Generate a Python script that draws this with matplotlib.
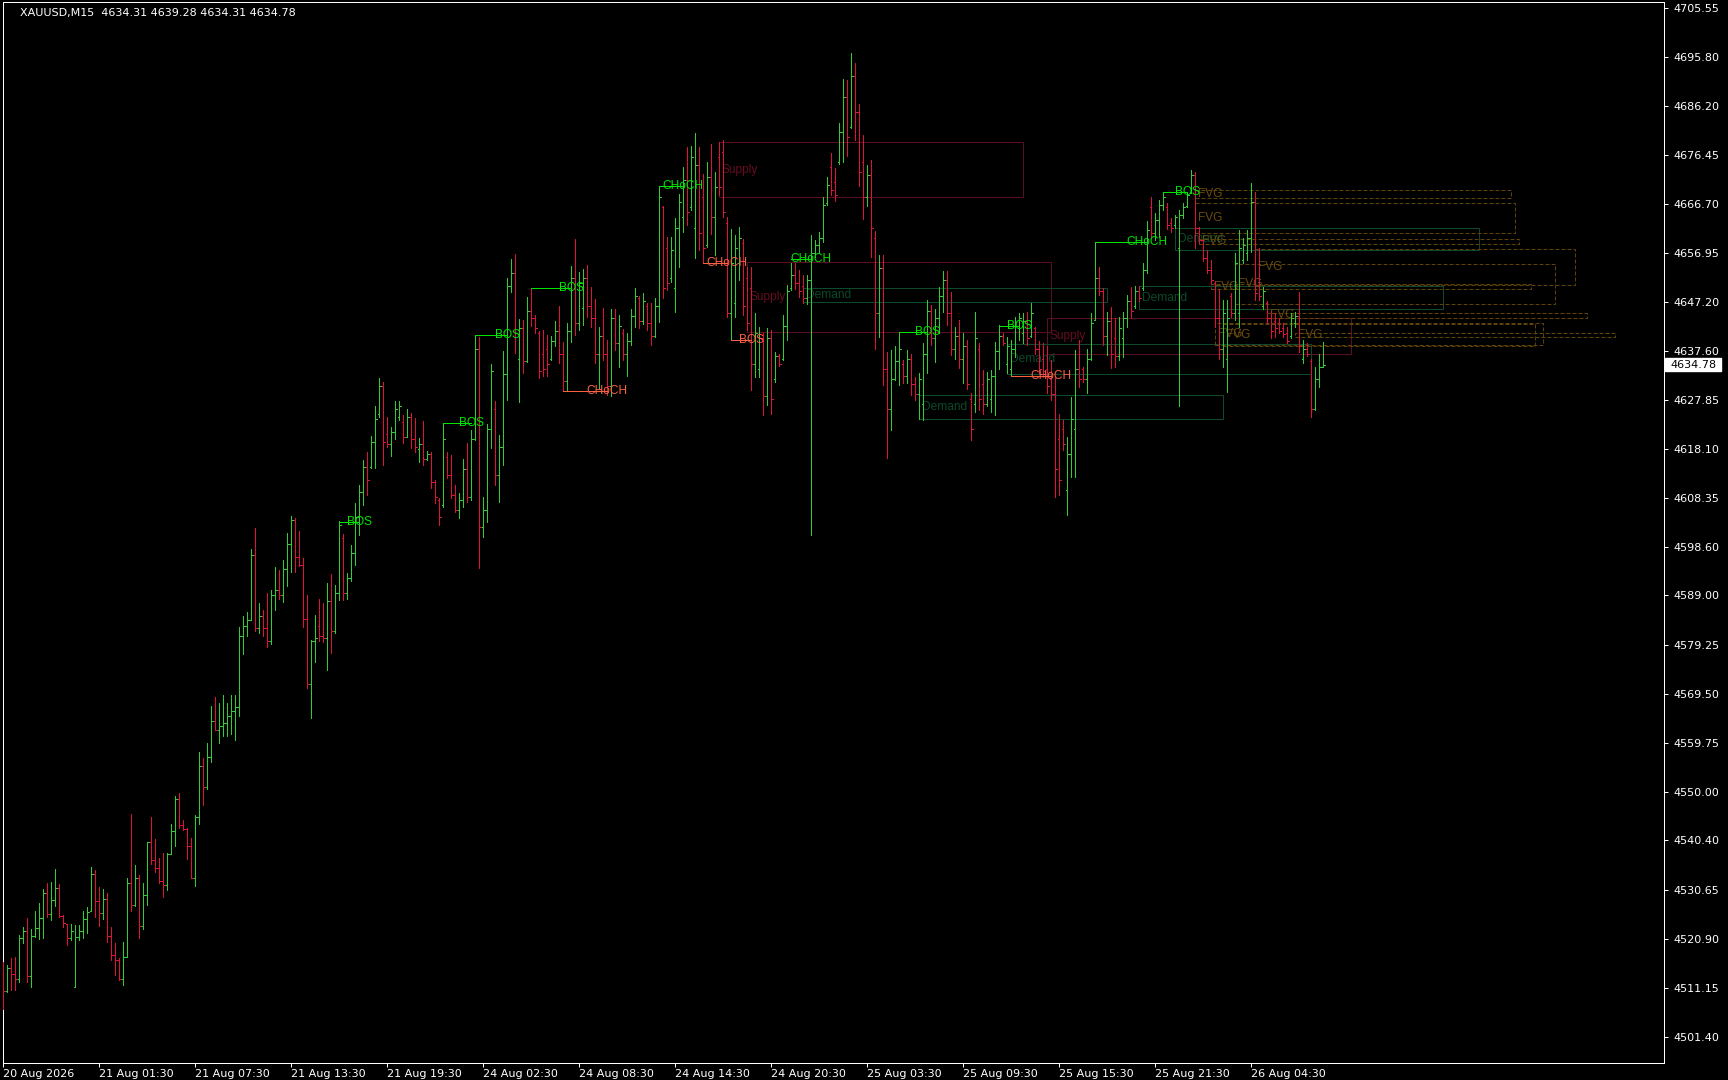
import matplotlib.pyplot as plt
import matplotlib.transforms as mtransforms
from matplotlib.collections import LineCollection
from matplotlib.patches import Rectangle

# XAUUSD M15 bars (open, high, low, close), one entry per bar
opens = [
    4514.5, 4510.5, 4515.0, 4513.8, 4512.9, 4521.0, 4522.4, 4513.5, 4521.5, 4523.0,
    4525.0, 4530.0, 4525.9, 4528.5, 4531.0, 4525.5, 4523.8, 4521.0, 4511.4, 4521.2,
    4522.5, 4524.8, 4526.3, 4533.8, 4528.3, 4526.0, 4528.8, 4521.4, 4517.6, 4516.6,
    4513.0, 4517.3, 4532.0, 4527.6, 4533.0, 4523.5, 4529.6, 4540.0, 4536.5, 4535.0,
    4532.3, 4531.5, 4537.8, 4542.3, 4548.6, 4543.5, 4542.6, 4539.2, 4533.0, 4545.0,
    4555.2, 4551.0, 4557.0, 4564.0, 4562.4, 4563.2, 4563.6, 4565.0, 4566.0, 4566.8,
    4581.0, 4583.0, 4584.2, 4597.0, 4582.5, 4585.0, 4582.6, 4580.0, 4589.0, 4590.0,
    4589.0, 4594.3, 4599.2, 4604.0, 4596.6, 4595.0, 4584.4, 4571.5, 4580.0, 4583.0,
    4581.0, 4580.5, 4588.0, 4582.0, 4589.5, 4600.5, 4589.5, 4592.5, 4597.5, 4604.5,
    4609.5, 4614.5, 4614.5, 4619.5, 4625.0, 4630.5, 4621.0, 4619.0, 4621.5, 4624.5,
    4623.5, 4620.5, 4624.5, 4620.0, 4618.0, 4619.0, 4616.0, 4617.0, 4611.5, 4608.0,
    4607.0, 4616.5, 4613.0, 4609.0, 4606.0, 4608.0, 4614.0, 4608.5, 4620.0, 4638.0,
    4602.5, 4606.0, 4622.0, 4626.0, 4613.0, 4618.5, 4633.0, 4650.5, 4653.0, 4636.0,
    4642.0, 4635.5, 4645.5, 4644.0, 4641.0, 4637.0, 4638.0, 4636.0, 4639.5, 4641.5,
    4637.0, 4631.5, 4641.5, 4652.0, 4643.0, 4646.0, 4652.0, 4646.5, 4644.0, 4637.0,
    4640.5, 4637.0, 4630.5, 4644.0, 4639.0, 4641.0, 4637.0, 4639.5, 4644.5, 4648.0,
    4643.5, 4646.5, 4643.0, 4640.5, 4646.5, 4666.0, 4658.0, 4652.0, 4650.0, 4662.0,
    4664.0, 4671.5, 4666.0, 4662.0, 4674.5, 4668.0, 4658.5, 4672.0, 4664.0, 4676.0,
    4677.0, 4663.0, 4645.0, 4647.0, 4655.0, 4659.0, 4652.0, 4650.0, 4635.0, 4634.0,
    4640.0, 4628.5, 4640.0, 4632.0, 4636.5, 4636.0, 4642.5, 4650.0, 4652.5, 4651.0,
    4650.5, 4648.0, 4651.5, 4657.0, 4658.5, 4660.0, 4666.8, 4674.0, 4671.0, 4675.0,
    4681.0, 4688.0, 4682.0, 4692.0, 4685.0, 4675.0, 4668.0, 4672.5, 4660.0, 4645.0,
    4654.0, 4634.0, 4626.0, 4632.0, 4635.5, 4635.0, 4632.5, 4636.0, 4631.0, 4629.0,
    4627.0, 4637.0, 4645.5, 4640.0, 4644.0, 4648.5, 4651.5, 4645.0, 4638.0, 4640.5,
    4636.0, 4638.5, 4628.0, 4627.0, 4638.0, 4631.0, 4627.0, 4628.0, 4632.5, 4637.5,
    4640.5, 4635.0, 4634.0, 4638.0, 4642.0, 4641.0, 4643.5, 4640.5, 4642.0, 4638.0,
    4636.0, 4634.0, 4632.0, 4629.0, 4620.0, 4622.0, 4610.0, 4617.0, 4622.0, 4634.0,
    4634.0, 4632.0, 4636.0, 4643.7, 4652.0, 4649.5, 4640.5, 4643.5, 4640.0, 4636.5,
    4640.0, 4644.0, 4647.5, 4646.5, 4649.5, 4650.0, 4653.5, 4666.0, 4661.0, 4663.5,
    4666.5, 4666.0, 4663.0, 4662.5, 4658.0, 4664.5, 4666.2, 4668.8, 4672.5, 4662.0,
    4659.5, 4656.0, 4653.5, 4651.0, 4644.0, 4638.0, 4636.0, 4648.5, 4645.0, 4645.0,
    4655.5, 4657.0, 4660.0, 4667.0, 4652.0, 4646.5, 4647.0, 4644.0, 4643.5, 4643.0,
    4642.0, 4641.0, 4640.5, 4643.0, 4644.5, 4636.0, 4638.0, 4635.5, 4626.0, 4632.0,
    4634.31,
]
highs = [
    4516.3, 4515.7, 4517.0, 4517.2, 4521.6, 4523.3, 4525.1, 4522.9, 4526.3, 4527.9,
    4530.7, 4532.0, 4532.2, 4534.7, 4531.7, 4525.6, 4523.9, 4523.9, 4523.6, 4523.7,
    4526.3, 4527.2, 4535.1, 4534.6, 4531.1, 4530.7, 4529.9, 4523.3, 4520.1, 4517.1,
    4520.3, 4533.0, 4545.6, 4535.6, 4533.5, 4531.9, 4540.1, 4545.1, 4540.7, 4537.0,
    4538.0, 4538.0, 4543.6, 4549.3, 4549.9, 4544.4, 4542.8, 4540.8, 4545.4, 4558.0,
    4556.8, 4559.7, 4567.1, 4568.9, 4567.6, 4569.2, 4567.6, 4569.2, 4569.2, 4582.8,
    4584.9, 4585.8, 4598.3, 4602.3, 4587.6, 4586.1, 4589.4, 4590.1, 4594.6, 4594.0,
    4596.0, 4601.3, 4604.8, 4604.4, 4601.8, 4596.4, 4589.0, 4580.2, 4585.1, 4588.3,
    4587.6, 4591.5, 4593.2, 4591.1, 4603.8, 4601.2, 4593.4, 4599.0, 4607.3, 4610.9,
    4615.9, 4617.5, 4620.6, 4626.6, 4632.1, 4631.3, 4624.5, 4622.5, 4627.6, 4627.6,
    4624.8, 4626.0, 4625.3, 4624.3, 4620.2, 4623.6, 4617.7, 4617.5, 4611.9, 4608.4,
    4623.3, 4617.5, 4616.9, 4610.9, 4609.3, 4616.0, 4619.2, 4621.8, 4640.7, 4640.2,
    4608.6, 4623.0, 4635.0, 4627.5, 4620.8, 4637.5, 4651.9, 4655.8, 4656.7, 4643.8,
    4643.7, 4648.2, 4650.0, 4644.7, 4641.4, 4641.7, 4640.7, 4640.4, 4643.5, 4646.4,
    4639.2, 4643.1, 4654.3, 4659.7, 4653.1, 4653.8, 4654.6, 4650.3, 4647.8, 4642.3,
    4646.0, 4639.6, 4645.8, 4645.8, 4644.7, 4641.9, 4641.0, 4645.9, 4650.1, 4648.5,
    4649.0, 4647.1, 4647.0, 4648.0, 4670.3, 4666.3, 4660.2, 4660.2, 4663.8, 4668.6,
    4674.1, 4677.9, 4678.2, 4680.7, 4677.9, 4672.7, 4675.1, 4678.6, 4673.1, 4679.0,
    4679.4, 4664.1, 4661.8, 4660.5, 4662.2, 4659.8, 4654.2, 4654.1, 4645.0, 4642.3,
    4641.0, 4642.0, 4641.7, 4637.4, 4637.0, 4644.6, 4650.6, 4655.0, 4654.9, 4653.6,
    4652.6, 4652.6, 4660.5, 4659.5, 4661.2, 4668.1, 4672.1, 4676.7, 4673.9, 4682.7,
    4691.4, 4691.3, 4696.6, 4694.6, 4686.6, 4680.4, 4674.4, 4675.5, 4661.3, 4656.5,
    4656.5, 4637.4, 4637.7, 4638.4, 4641.1, 4635.7, 4637.7, 4637.0, 4632.4, 4633.1,
    4639.0, 4647.7, 4646.6, 4645.8, 4650.3, 4653.4, 4653.4, 4649.2, 4642.2, 4643.6,
    4641.0, 4639.7, 4629.1, 4645.3, 4639.0, 4633.7, 4633.4, 4633.7, 4639.3, 4642.6,
    4641.0, 4640.3, 4639.7, 4644.3, 4645.0, 4645.0, 4645.2, 4647.0, 4642.3, 4639.4,
    4639.0, 4638.4, 4635.7, 4632.4, 4625.1, 4623.8, 4620.5, 4628.4, 4637.7, 4639.7,
    4634.4, 4638.0, 4645.0, 4659.2, 4654.2, 4650.0, 4645.3, 4646.3, 4644.0, 4644.3,
    4645.3, 4648.6, 4650.3, 4650.4, 4650.5, 4654.9, 4663.2, 4668.1, 4664.8, 4667.5,
    4669.0, 4666.8, 4663.8, 4664.5, 4665.5, 4666.8, 4669.1, 4673.4, 4673.1, 4662.2,
    4659.5, 4657.5, 4655.6, 4651.3, 4649.9, 4647.6, 4647.6, 4649.0, 4656.9, 4661.5,
    4659.9, 4661.5, 4670.8, 4669.1, 4658.0, 4650.3, 4647.5, 4645.5, 4645.0, 4644.0,
    4643.0, 4642.3, 4645.0, 4645.3, 4649.3, 4639.7, 4639.0, 4636.0, 4634.4, 4637.0,
    4639.28,
]
lows = [
    4507.0, 4510.4, 4510.7, 4510.7, 4512.4, 4520.0, 4512.4, 4511.4, 4521.3, 4520.8,
    4521.0, 4525.3, 4524.6, 4527.4, 4525.3, 4523.3, 4519.6, 4520.6, 4511.4, 4520.6,
    4521.0, 4522.1, 4526.3, 4525.3, 4523.4, 4524.9, 4520.3, 4516.7, 4513.7, 4512.7,
    4511.7, 4517.2, 4526.3, 4527.4, 4521.0, 4522.8, 4527.6, 4535.8, 4534.2, 4531.9,
    4529.2, 4530.6, 4537.7, 4539.3, 4542.8, 4542.5, 4536.8, 4532.9, 4531.4, 4543.6,
    4547.4, 4550.7, 4556.0, 4562.3, 4559.8, 4561.2, 4561.2, 4561.6, 4560.4, 4565.1,
    4577.4, 4581.0, 4584.2, 4582.0, 4581.5, 4581.0, 4578.8, 4579.4, 4586.2, 4588.3,
    4587.8, 4590.9, 4593.7, 4593.7, 4594.8, 4582.8, 4570.6, 4564.7, 4575.9, 4580.0,
    4579.8, 4574.3, 4577.5, 4581.6, 4588.1, 4588.1, 4588.4, 4591.8, 4595.1, 4601.0,
    4607.0, 4609.0, 4614.2, 4614.2, 4624.5, 4614.9, 4618.5, 4616.7, 4620.0, 4623.8,
    4619.3, 4620.5, 4618.2, 4617.5, 4615.4, 4614.9, 4615.9, 4610.3, 4607.3, 4603.0,
    4606.6, 4612.3, 4608.3, 4605.6, 4604.3, 4606.6, 4607.6, 4608.0, 4619.9, 4594.4,
    4600.7, 4603.5, 4618.3, 4610.9, 4607.6, 4614.9, 4627.8, 4649.3, 4637.1, 4627.3,
    4633.1, 4635.3, 4642.5, 4641.0, 4632.1, 4632.6, 4632.6, 4635.7, 4638.4, 4635.1,
    4629.6, 4629.8, 4639.2, 4640.6, 4641.7, 4642.7, 4644.3, 4642.3, 4635.1, 4630.0,
    4635.7, 4628.8, 4628.6, 4637.7, 4634.4, 4635.7, 4632.6, 4638.7, 4642.3, 4642.1,
    4642.8, 4641.7, 4638.7, 4640.2, 4643.3, 4648.0, 4649.6, 4651.2, 4645.2, 4654.2,
    4661.2, 4662.5, 4665.5, 4655.9, 4657.5, 4655.0, 4658.2, 4660.8, 4656.5, 4668.5,
    4664.1, 4644.3, 4639.7, 4644.3, 4651.6, 4644.6, 4641.7, 4629.8, 4632.4, 4632.4,
    4624.8, 4626.8, 4625.0, 4631.4, 4634.5, 4635.8, 4639.7, 4649.6, 4649.9, 4648.3,
    4647.1, 4646.9, 4601.0, 4656.2, 4656.9, 4659.2, 4666.5, 4668.4, 4667.3, 4674.7,
    4675.1, 4676.2, 4681.7, 4679.4, 4670.3, 4663.7, 4666.3, 4656.2, 4638.0, 4640.3,
    4630.7, 4616.2, 4621.9, 4631.7, 4630.7, 4631.1, 4631.1, 4628.8, 4627.8, 4624.1,
    4623.9, 4633.1, 4638.7, 4635.4, 4641.0, 4645.3, 4642.7, 4636.7, 4636.0, 4634.1,
    4631.1, 4629.9, 4619.8, 4625.5, 4625.8, 4625.1, 4626.5, 4625.5, 4624.8, 4634.0,
    4638.7, 4633.1, 4632.6, 4636.4, 4639.7, 4639.0, 4638.7, 4640.3, 4637.0, 4633.1,
    4632.4, 4629.1, 4627.8, 4608.6, 4608.9, 4617.9, 4605.0, 4612.6, 4612.6, 4630.4,
    4631.4, 4629.1, 4635.7, 4643.7, 4648.6, 4638.7, 4636.7, 4634.1, 4634.4, 4635.7,
    4636.4, 4642.3, 4644.0, 4646.0, 4647.5, 4649.6, 4652.9, 4660.2, 4659.5, 4660.2,
    4665.5, 4661.8, 4661.2, 4662.0, 4626.5, 4663.8, 4666.1, 4668.8, 4658.0, 4658.9,
    4655.3, 4652.9, 4650.9, 4642.3, 4636.0, 4634.4, 4629.4, 4644.3, 4643.7, 4642.3,
    4654.9, 4655.6, 4657.2, 4647.6, 4647.6, 4645.9, 4643.0, 4640.0, 4640.3, 4641.0,
    4640.3, 4639.0, 4640.0, 4642.3, 4637.4, 4635.1, 4636.5, 4624.5, 4625.8, 4630.4,
    4634.31,
]
closes = [
    4510.5, 4515.0, 4513.8, 4512.9, 4521.0, 4522.4, 4513.5, 4521.5, 4523.0, 4525.0,
    4530.0, 4525.9, 4528.5, 4531.0, 4525.5, 4524.0, 4521.0, 4522.4, 4521.2, 4522.5,
    4524.8, 4526.2, 4533.8, 4528.3, 4526.0, 4528.8, 4521.4, 4517.6, 4516.6, 4513.0,
    4517.3, 4532.0, 4527.6, 4533.0, 4523.5, 4529.6, 4540.0, 4536.5, 4535.0, 4532.3,
    4531.5, 4537.8, 4542.3, 4548.6, 4543.5, 4542.6, 4539.2, 4533.0, 4545.0, 4555.2,
    4551.0, 4557.0, 4564.0, 4562.4, 4563.2, 4563.6, 4565.0, 4566.0, 4566.8, 4581.0,
    4583.0, 4584.2, 4597.0, 4582.5, 4585.0, 4582.6, 4580.0, 4589.0, 4590.0, 4589.0,
    4594.3, 4599.2, 4604.0, 4596.6, 4595.0, 4584.4, 4571.5, 4580.0, 4580.5, 4581.0,
    4580.5, 4588.0, 4582.0, 4589.5, 4603.0, 4589.5, 4592.5, 4597.5, 4604.5, 4609.5,
    4614.5, 4612.0, 4619.5, 4624.0, 4630.5, 4619.5, 4619.0, 4621.5, 4626.0, 4626.5,
    4620.5, 4624.5, 4620.0, 4618.5, 4619.0, 4616.0, 4617.0, 4611.5, 4608.5, 4604.5,
    4620.0, 4613.0, 4609.0, 4606.0, 4608.0, 4614.0, 4608.5, 4620.0, 4638.0, 4602.5,
    4606.0, 4622.0, 4633.5, 4613.0, 4618.5, 4633.0, 4650.5, 4653.0, 4641.0, 4642.0,
    4635.5, 4645.5, 4644.0, 4642.0, 4633.5, 4634.0, 4635.0, 4639.5, 4641.5, 4637.0,
    4631.5, 4641.5, 4652.0, 4643.0, 4651.0, 4652.0, 4646.5, 4644.0, 4637.0, 4640.5,
    4637.0, 4630.5, 4644.0, 4639.0, 4642.5, 4637.0, 4639.5, 4644.5, 4648.5, 4643.5,
    4647.5, 4643.0, 4640.5, 4646.5, 4668.0, 4650.0, 4651.0, 4657.5, 4662.0, 4667.0,
    4671.5, 4665.0, 4676.0, 4674.5, 4661.0, 4658.0, 4672.0, 4664.0, 4670.0, 4670.0,
    4665.0, 4645.0, 4655.0, 4658.0, 4660.0, 4646.5, 4643.0, 4635.0, 4641.0, 4640.0,
    4628.5, 4640.0, 4628.0, 4636.5, 4635.0, 4642.5, 4649.5, 4652.5, 4651.0, 4649.5,
    4648.0, 4651.5, 4657.0, 4658.5, 4660.0, 4666.5, 4670.5, 4669.5, 4668.5, 4681.0,
    4688.0, 4680.0, 4692.0, 4685.0, 4673.0, 4668.0, 4672.5, 4662.0, 4645.0, 4654.0,
    4634.0, 4626.0, 4632.0, 4635.5, 4638.0, 4632.5, 4636.0, 4631.0, 4629.0, 4632.0,
    4637.0, 4645.5, 4640.0, 4644.0, 4648.5, 4651.5, 4645.0, 4638.0, 4640.5, 4636.0,
    4638.5, 4631.0, 4622.0, 4640.0, 4628.0, 4627.0, 4632.0, 4632.5, 4637.5, 4640.5,
    4639.0, 4638.5, 4638.0, 4642.5, 4644.0, 4643.5, 4640.0, 4645.0, 4638.0, 4634.0,
    4633.5, 4630.5, 4629.0, 4614.0, 4612.0, 4619.0, 4617.0, 4624.0, 4634.0, 4632.0,
    4632.0, 4636.0, 4643.0, 4652.0, 4649.5, 4640.5, 4643.5, 4637.0, 4636.5, 4642.0,
    4644.0, 4647.5, 4645.5, 4649.5, 4648.0, 4653.5, 4661.5, 4661.0, 4663.5, 4666.5,
    4668.0, 4662.5, 4662.0, 4664.0, 4664.5, 4666.0, 4668.5, 4672.5, 4662.0, 4659.5,
    4656.0, 4653.5, 4651.5, 4644.0, 4638.0, 4645.0, 4644.0, 4645.0, 4655.0, 4658.0,
    4658.5, 4660.0, 4667.0, 4649.0, 4648.5, 4649.5, 4644.0, 4641.5, 4642.0, 4641.5,
    4640.8, 4639.5, 4644.0, 4644.5, 4638.5, 4638.0, 4637.0, 4626.0, 4632.0, 4634.3,
    4634.78,
]

time_labels = ["20 Aug 2026", "21 Aug 01:30", "21 Aug 07:30", "21 Aug 13:30",
               "21 Aug 19:30", "24 Aug 02:30", "24 Aug 08:30", "24 Aug 14:30",
               "24 Aug 20:30", "25 Aug 03:30", "25 Aug 09:30", "25 Aug 15:30",
               "25 Aug 21:30", "26 Aug 04:30"]
time_label_bars = [0, 24, 48, 72, 96, 120, 144, 168, 192, 216, 240, 264, 288, 312]
price_ticks = [4705.55, 4695.80, 4686.20, 4676.45, 4666.70, 4656.95, 4647.20,
               4637.60, 4627.85, 4618.10, 4608.35, 4598.60, 4589.00, 4579.25,
               4569.50, 4559.75, 4550.00, 4540.40, 4530.65, 4520.90, 4511.15,
               4501.40]

# zones: (first bar, last bar, bottom price, top price)
supply_zones = [(179, 255, 4668.0, 4679.0), (186, 262, 4641.3, 4655.1),
                (261, 337, 4637.0, 4644.0)]
demand_zones = [(200, 276, 4647.2, 4650.0), (229, 305, 4624.0, 4628.8),
                (251, 327, 4632.9, 4638.8), (284, 360, 4645.8, 4650.4),
                (293, 369, 4657.6, 4662.0)]
fvg_zones = [(298, 377, 4667.8, 4669.4), (298, 378, 4661.0, 4666.8),
             (299, 379, 4658.7, 4659.8), (313, 393, 4650.6, 4657.7),
             (308, 388, 4646.9, 4654.7), (302, 382, 4649.9, 4650.7),
             (316, 396, 4644.1, 4645.0), (303, 385, 4638.7, 4643.0),
             (305, 383, 4638.5, 4642.8), (323, 403, 4640.3, 4641.1)]

# market structure breaks: (from bar, to bar, level, label, bullish?)
structure = [
    (84, 89, 4603.5, "BOS", True), (110, 117, 4623.3, "BOS", True),
    (118, 126, 4640.7, "BOS", True), (132, 142, 4650.0, "BOS", True),
    (140, 151, 4629.6, "CHoCH", False), (164, 170, 4670.3, "CHoCH", True),
    (175, 181, 4655.0, "CHoCH", False), (182, 187, 4639.7, "BOS", False),
    (197, 202, 4655.7, "CHoCH", True), (224, 231, 4641.2, "BOS", True),
    (249, 254, 4642.4, "BOS", True), (252, 262, 4632.6, "CHoCH", False),
    (273, 286, 4659.2, "CHoCH", True), (290, 296, 4669.0, "BOS", True),
]

last_price = 4634.78
header = "XAUUSD,M15  4634.31 4639.28 4634.31 4634.78"

W, H = 1728, 1080
fig = plt.figure(figsize=(W / 100, H / 100), dpi=100, facecolor="black")
ax = fig.add_axes([2.5 / W, 17 / H, 1661.5 / W, 1061 / H])
ax.set_facecolor("black")
ax.set_xlim(-0.2, 415.2)
ax.set_ylim(4496.24, 4706.75)

px = 0.72  # one pixel in points

# OHLC bars
segs, cols = [], []
for i, (o, h, l, c) in enumerate(zip(opens, highs, lows, closes)):
    col = "#32cd32" if c >= o else "#dc143c"
    segs += [[(i, l), (i, h)], [(i - 0.4, o), (i, o)], [(i, c), (i + 0.4, c)]]
    cols += [col] * 3
ax.add_collection(LineCollection(segs, colors=cols, linewidths=px,
                                 antialiased=False, zorder=3))

obj_font = "Liberation Sans"


def draw_zone(x0, x1, bot, top, edge, text, tcol, dashed=False):
    ls = (0, (4, 2)) if dashed else "-"
    ax.add_patch(Rectangle((x0, bot), x1 - x0, top - bot, fill=False,
                           edgecolor=edge, linewidth=px, linestyle=ls, zorder=2))
    ax.text(x0 + 0.6, (bot + top) / 2, text, color=tcol, fontsize=8.6,
            family=obj_font, ha="left", va="center", zorder=2)


for x0, x1, b, t in supply_zones:
    draw_zone(x0, x1, b, t, "#5c0f22", "Supply", "#650d22")
for x0, x1, b, t in demand_zones:
    draw_zone(x0, x1, b, t, "#0e4a2c", "Demand", "#0c4a2a")
for x0, x1, b, t in fvg_zones:
    draw_zone(x0, x1, b, t, "#5e4208", "FVG", "#6a4a0c", dashed=True)

for s, e, lvl, lab, bull in structure:
    col = "#00e600" if bull else "#ff6040"
    ax.plot([s, e], [lvl, lvl], color=col, lw=px, zorder=4)
    ax.text(e, lvl, lab, color=col, fontsize=8.6, family=obj_font,
            ha="center", va="center", zorder=5)

# axes, frame and ticks
for sp in ax.spines.values():
    sp.set_color("white")
    sp.set_linewidth(px)
ax.yaxis.tick_right()
ax.set_yticks(price_ticks)
ax.set_yticklabels([f"{v:.2f}" for v in price_ticks])
ax.tick_params(axis="y", colors="white", labelsize=8, length=3, width=px, pad=4)
ax.set_xticks(time_label_bars)
ax.set_xticklabels(time_labels, ha="left")
ax.tick_params(axis="x", colors="white", labelsize=8, length=3, width=px, pad=1)

# current price tag on the price scale
trans = mtransforms.blended_transform_factory(ax.transAxes, ax.transData)
ax.add_patch(Rectangle((1.0008, last_price - 1.3), 56 / 1661.5, 2.6,
                       transform=trans, facecolor="white", edgecolor="white",
                       clip_on=False, zorder=6))
ax.text(1.0008 + 28 / 1661.5, last_price, f"{last_price:.2f}", transform=trans,
        color="black", fontsize=8, ha="center", va="center", zorder=7)

fig.text(20.5 / W, 1 - 12.7 / H, header, color="white", fontsize=8,
         ha="left", va="center")

fig.savefig("out.png", dpi=100, facecolor="black")
